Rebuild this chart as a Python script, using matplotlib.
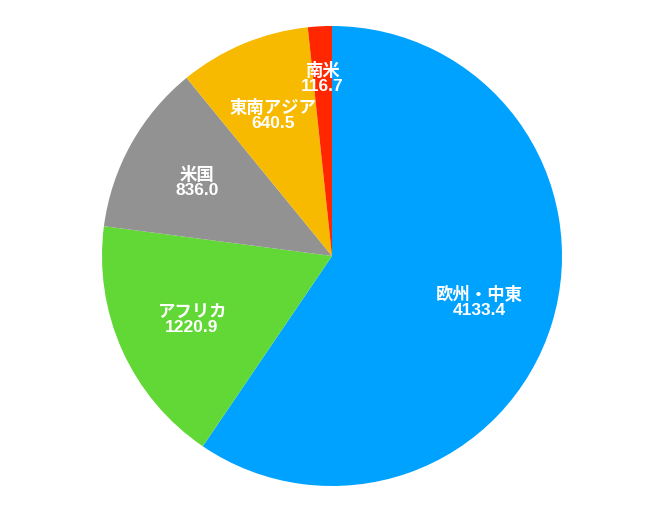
import matplotlib.pyplot as plt

plt.rcParams['font.family'] = ['Liberation Sans', 'Noto Sans CJK JP']

regions = ['欧州・中東', 'アフリカ', '米国', '東南アジア', '南米']
values = [4133.4, 1220.9, 836.0, 640.5, 116.7]
colors = ['#00A2FF', '#61D836', '#929292', '#F8BA00', '#FF2600']

fig = plt.figure(figsize=(6.5, 5.1), dpi=100)
# pie centre at (332, 257) px, radius 230 px
ax = fig.add_axes([102 / 650, 23 / 510, 460 / 650, 460 / 510])

labels = ['%s\n%.1f' % (r, v) for r, v in zip(regions, values)]
wedges, texts = ax.pie(values, colors=colors, startangle=90, counterclock=False,
                       labels=labels, labeldistance=0.67,
                       wedgeprops=dict(linewidth=0))
# the thin slice gets its label pushed outward
x, y = texts[4].get_position()
texts[4].set_position((x * 0.78 / 0.67, y * 0.78 / 0.67))
for t in texts:
    t.set_color('white')
    t.set_fontweight('bold')
    t.set_fontsize(12.5)
    t.set_ha('center')
    t.set_va('center')
    t.set_linespacing(0.97)

ax.set_xlim(-1, 1)
ax.set_ylim(-1, 1)
ax.set_aspect('equal')
ax.axis('off')

fig.savefig('out.png', dpi=100)
